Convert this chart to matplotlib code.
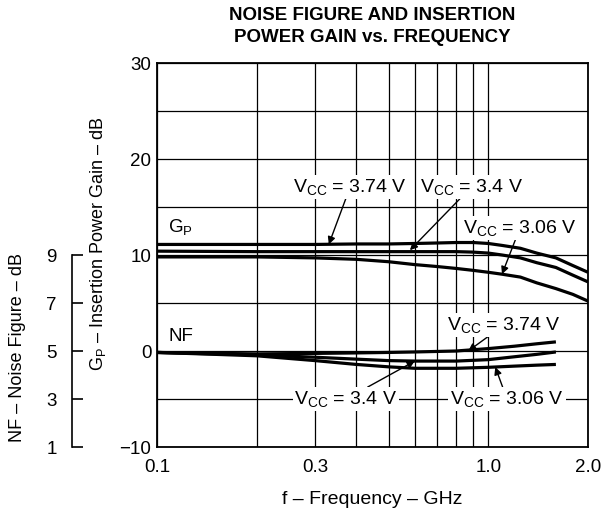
import matplotlib
matplotlib.use('Agg')
import matplotlib.pyplot as plt
from matplotlib.ticker import FixedLocator, NullFormatter, FixedFormatter

plt.rcParams['font.family'] = ['Liberation Sans', 'DejaVu Sans']
plt.rcParams['mathtext.fontset'] = 'custom'
plt.rcParams['mathtext.rm'] = 'Liberation Sans'
plt.rcParams['mathtext.it'] = 'Liberation Sans:italic'
plt.rcParams['mathtext.bf'] = 'Liberation Sans:bold'

# ---------------- data ----------------
freq_gp = [0.1, 0.2, 0.3, 0.4, 0.5, 0.6, 0.7, 0.8, 0.9, 1.0, 1.1, 1.25, 1.4, 1.6, 1.8, 2.0]
gp_374 = [11.1, 11.1, 11.1, 11.15, 11.15, 11.2, 11.25, 11.3, 11.3, 11.2, 11.0, 10.7, 10.2, 9.7, 8.9, 8.2]
gp_340 = [10.4, 10.35, 10.35, 10.35, 10.35, 10.35, 10.35, 10.35, 10.3, 10.2, 10.0, 9.7, 9.2, 8.7, 7.9, 7.2]
gp_306 = [9.8, 9.8, 9.7, 9.55, 9.3, 9.0, 8.8, 8.6, 8.4, 8.2, 8.0, 7.7, 7.1, 6.5, 5.9, 5.2]

freq_nf = [0.1, 0.15, 0.2, 0.3, 0.4, 0.5, 0.6, 0.8, 1.0, 1.2, 1.4, 1.6]
nf_374 = [4.94, 4.9, 4.88, 4.9, 4.92, 4.94, 4.96, 5.0, 5.1, 5.2, 5.3, 5.38]
nf_340 = [4.94, 4.88, 4.84, 4.74, 4.66, 4.6, 4.58, 4.58, 4.64, 4.76, 4.86, 4.96]
nf_306 = [4.94, 4.86, 4.8, 4.6, 4.44, 4.34, 4.28, 4.28, 4.32, 4.37, 4.41, 4.44]

x_major = [0.1, 0.3, 1.0, 2.0]
x_major_labels = ['0.1', '0.3', '1.0', '2.0']
x_minor = [0.2, 0.4, 0.5, 0.6, 0.7, 0.8, 0.9]
y_major = [-10, 0, 10, 20, 30]
y_major_labels = ['\u221210', '0', '10', '20', '30']
y_minor = [-5, 5, 15, 25]
nf_ticks = [1, 3, 5, 7, 9]

title = 'NOISE FIGURE AND INSERTION\nPOWER GAIN vs. FREQUENCY'
xlabel = 'f \u2013 Frequency \u2013 GHz'
ylabel = 'G$_\\mathregular{P}$ \u2013 Insertion Power Gain \u2013 dB'
nflabel = 'NF \u2013 Noise Figure \u2013 dB'
VCC = 'V$_\\mathregular{CC}$'

# ---------------- figure ----------------
W, H = 604, 518
fig = plt.figure(figsize=(W / 100, H / 100), dpi=100)
L, R, T, B = 157, 588, 63, 447
ax = fig.add_axes([L / W, (H - B) / H, (R - L) / W, (B - T) / H])

ax.set_xscale('log')
ax.set_xlim(0.1, 2.0)
ax.set_ylim(-10, 30)
ax.xaxis.set_major_locator(FixedLocator(x_major))
ax.xaxis.set_major_formatter(FixedFormatter(x_major_labels))
ax.xaxis.set_minor_locator(FixedLocator(x_minor))
ax.xaxis.set_minor_formatter(NullFormatter())
ax.yaxis.set_major_locator(FixedLocator(y_major))
ax.yaxis.set_major_formatter(FixedFormatter(y_major_labels))
ax.yaxis.set_minor_locator(FixedLocator(y_minor))
ax.tick_params(which='both', length=0)
ax.tick_params(axis='x', pad=9, labelsize=13.5)
ax.tick_params(axis='y', pad=4, labelsize=13.5)
ax.grid(True, which='both', color='black', lw=0.9)
for s in ax.spines.values():
    s.set_linewidth(1.3)

lw = 2.3
ax.plot(freq_gp, gp_374, color='black', lw=lw, solid_capstyle='butt', zorder=3)
ax.plot(freq_gp, gp_340, color='black', lw=lw, solid_capstyle='butt', zorder=3)
ax.plot(freq_gp, gp_306, color='black', lw=lw, solid_capstyle='butt', zorder=3)

# NF twin axis (NF = 1 + 0.4*(Gp + 10))
ax_nf = ax.twinx()
ax_nf.set_ylim(1, 17)
ax_nf.set_yticks([])
for s in ax_nf.spines.values():
    s.set_visible(False)
ax_nf.plot(freq_nf, nf_374, color='black', lw=lw, solid_capstyle='butt', zorder=3)
ax_nf.plot(freq_nf, nf_340, color='black', lw=lw, solid_capstyle='butt', zorder=3)
ax_nf.plot(freq_nf, nf_306, color='black', lw=lw, solid_capstyle='butt', zorder=3)

sec = ax_nf.secondary_yaxis((72 - L) / (R - L))
sec.yaxis.set_major_locator(FixedLocator(nf_ticks))
sec.yaxis.set_minor_locator(FixedLocator([]))
sec.spines['left'].set_bounds(1, 9)
sec.spines['left'].set_linewidth(1.2)
sec.tick_params(which='major', direction='in', length=8, width=1.2, pad=11, labelsize=13.5)

# labels
fig.text((L + R) / 2 / W, 1 - 26.5 / H, title, ha='center', va='center',
         fontsize=13.5, fontweight='bold', linespacing=1.4)
ax.set_xlabel(xlabel, fontsize=14)
ax.xaxis.set_label_coords(0.5, (B - 491) / (B - T))
ax.set_ylabel(ylabel, fontsize=13)
ax.yaxis.set_label_coords((108 - L) / (R - L), (B - 244) / (B - T))
ax.text((18 - L) / (R - L), (B - 348) / (B - T), nflabel, transform=ax.transAxes,
        rotation=90, ha='center', va='center', fontsize=13)

ax.text(0.108, 12.9, 'G$_\\mathregular{P}$', ha='left', va='center', fontsize=13.5)
ax.text(0.108, 1.5, 'NF', ha='left', va='center', fontsize=13.5)

bbox = dict(boxstyle='square,pad=0.1', fc='white', ec='none')
arrow = dict(arrowstyle='-|>', color='black', lw=1.0, mutation_scale=11, shrinkA=0, shrinkB=0)
fs = 14

ax.annotate(VCC + ' = 3.74 V', xy=(0.33, 11.1), xytext=(0.383, 17.1), ha='center', va='center',
            fontsize=fs, bbox=bbox, arrowprops=arrow, zorder=5)
ax.annotate(VCC + ' = 3.4 V', xy=(0.58, 10.5), xytext=(0.89, 17.1), ha='center', va='center',
            fontsize=fs, bbox=bbox, arrowprops=arrow, zorder=5)
ax.annotate(VCC + ' = 3.06 V', xy=(1.1, 8.0), xytext=(1.246, 12.8), ha='center', va='center',
            fontsize=fs, bbox=bbox, arrowprops=arrow, zorder=5)
ax_nf.annotate(VCC + ' = 3.74 V', xy=(0.87, 5.0), xytext=(1.115, 6.08), ha='center', va='center',
               fontsize=fs, bbox=bbox, arrowprops=arrow, zorder=5)
ax_nf.annotate(VCC + ' = 3.4 V', xy=(0.6, 4.58), xytext=(0.372, 3.0), ha='center', va='center',
               fontsize=fs, bbox=bbox, arrowprops=arrow, zorder=5)
ax_nf.annotate(VCC + ' = 3.06 V', xy=(1.05, 4.33), xytext=(1.139, 3.0), ha='center', va='center',
               fontsize=fs, bbox=bbox, arrowprops=arrow, zorder=5)

fig.savefig('out.png', dpi=100)
